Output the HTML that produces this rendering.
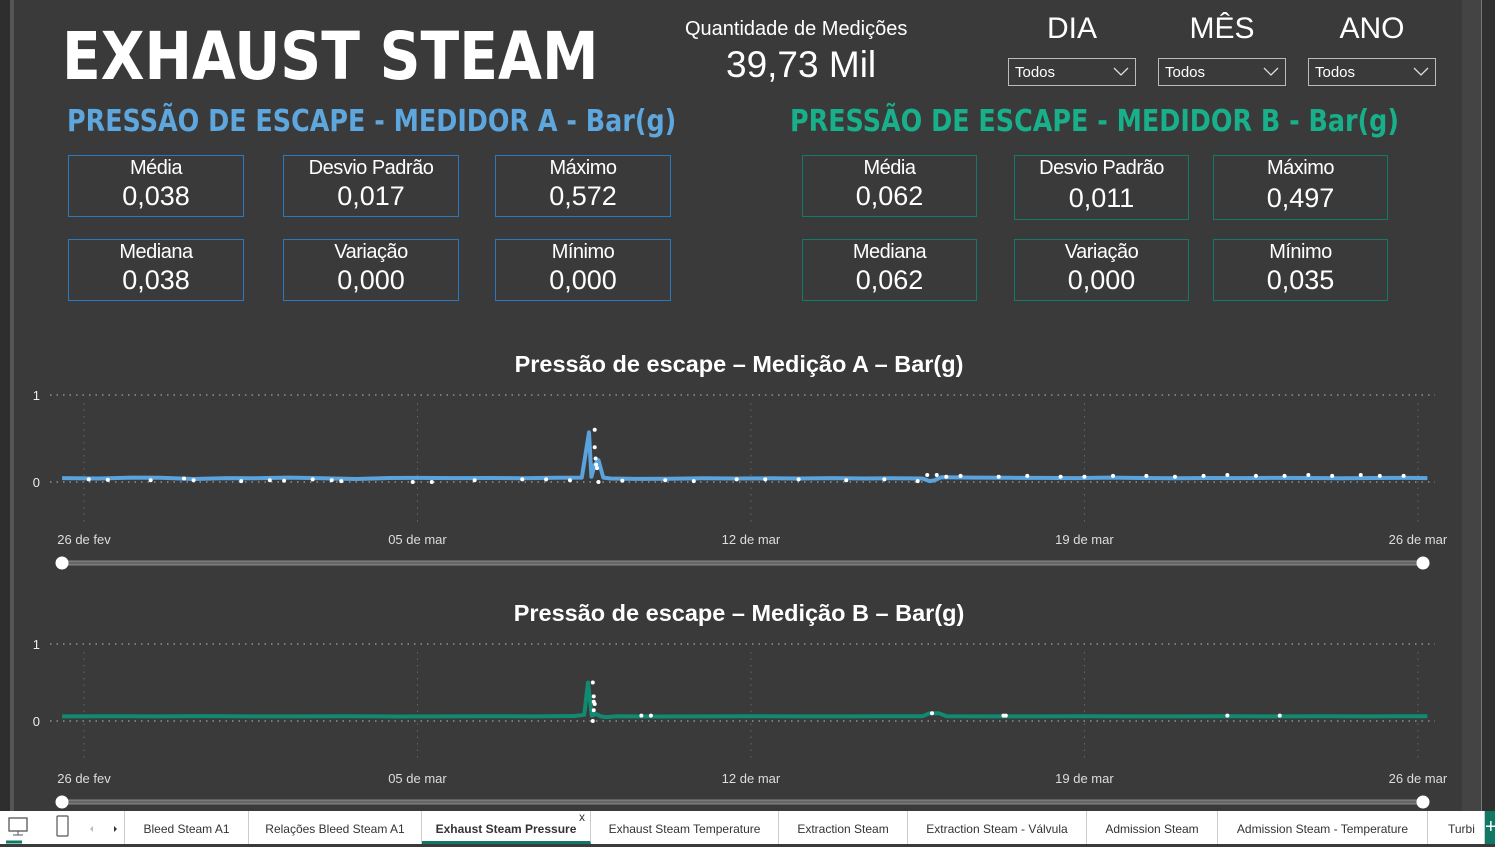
<!DOCTYPE html>
<html><head><meta charset="utf-8">
<style>
*{margin:0;padding:0;box-sizing:border-box}
body{width:1495px;height:844px;background:#3a3a3a;font-family:"Liberation Sans",sans-serif;color:#fff;position:relative;overflow:hidden}
.abs{position:absolute}
.box{position:absolute;width:176px;height:62px;text-align:center;border:1.5px solid #2a78c0}
.box.b{border-color:#137a68}
.box .l{font-size:20px;margin-top:1px;letter-spacing:-0.5px}
.box .v{font-size:27px;margin-top:1px}
.sel{position:absolute;top:58px;width:128px;height:28px;border:1.5px solid #bbb;font-size:15px;padding:5px 6px}
.sel svg{position:absolute;right:6px;top:8px}
.hdr{position:absolute;top:12px;font-size:30px;width:128px;text-align:center}
.tab{position:absolute;top:811px;height:33px;font-size:12px;color:#333;text-align:center;line-height:36px;border-right:1px solid #ccc;white-space:nowrap}
</style></head><body>
<div class="abs" style="left:0;top:0;width:12px;height:811px;background:#2e2e2e"></div>
<div class="abs" style="left:10px;top:0;width:4px;height:811px;background:#555"></div>
<div class="abs" style="left:1462px;top:0;width:19px;height:811px;background:#444"></div>
<div class="abs" style="left:1481px;top:0;width:14px;height:811px;background:#303030;border-left:1px solid #777"></div>

<div class="abs" style="left:62px;top:18px;font-size:66px;font-weight:bold;font-family:'DejaVu Sans',sans-serif;transform:scaleX(0.86);transform-origin:left;white-space:nowrap">EXHAUST STEAM</div>
<div class="abs" style="left:685px;top:18px;font-size:20px">Quantidade de Medições</div>
<div class="abs" style="left:726px;top:44px;font-size:37px">39,73 Mil</div>

<div class="hdr" style="left:1008px">DIA</div>
<div class="hdr" style="left:1158px">MÊS</div>
<div class="hdr" style="left:1308px">ANO</div>
<div class="sel" style="left:1008px">Todos<svg width="16" height="10"><polyline points="1,1 8,8 15,1" fill="none" stroke="#ddd" stroke-width="1.3"/></svg></div>
<div class="sel" style="left:1158px">Todos<svg width="16" height="10"><polyline points="1,1 8,8 15,1" fill="none" stroke="#ddd" stroke-width="1.3"/></svg></div>
<div class="sel" style="left:1308px">Todos<svg width="16" height="10"><polyline points="1,1 8,8 15,1" fill="none" stroke="#ddd" stroke-width="1.3"/></svg></div>

<div class="abs" style="left:67px;top:104px;font-size:30px;font-weight:bold;color:#5ea6de;font-family:'DejaVu Sans',sans-serif;transform:scaleX(0.847);transform-origin:left;white-space:nowrap">PRESSÃO DE ESCAPE - MEDIDOR A - Bar(g)</div>
<div class="abs" style="left:790px;top:104px;font-size:30px;font-weight:bold;color:#17b08a;font-family:'DejaVu Sans',sans-serif;transform:scaleX(0.847);transform-origin:left;white-space:nowrap">PRESSÃO DE ESCAPE - MEDIDOR B - Bar(g)</div>

<div class="box" style="left:68px;top:155px"><div class="l">Média</div><div class="v">0,038</div></div>
<div class="box" style="left:283px;top:155px"><div class="l">Desvio Padrão</div><div class="v">0,017</div></div>
<div class="box" style="left:495px;top:155px"><div class="l">Máximo</div><div class="v">0,572</div></div>
<div class="box" style="left:68px;top:239px"><div class="l">Mediana</div><div class="v">0,038</div></div>
<div class="box" style="left:283px;top:239px"><div class="l">Variação</div><div class="v">0,000</div></div>
<div class="box" style="left:495px;top:239px"><div class="l">Mínimo</div><div class="v">0,000</div></div>
<div class="box b" style="left:802px;top:155px;width:175px"><div class="l">Média</div><div class="v">0,062</div></div>
<div class="box b" style="left:1014px;top:155px;height:65px;width:175px"><div class="l">Desvio Padrão</div><div class="v" style="margin-top:3px">0,011</div></div>
<div class="box b" style="left:1213px;top:155px;height:65px;width:175px"><div class="l">Máximo</div><div class="v" style="margin-top:3px">0,497</div></div>
<div class="box b" style="left:802px;top:239px;width:175px"><div class="l">Mediana</div><div class="v">0,062</div></div>
<div class="box b" style="left:1014px;top:239px;width:175px"><div class="l">Variação</div><div class="v">0,000</div></div>
<div class="box b" style="left:1213px;top:239px;width:175px"><div class="l">Mínimo</div><div class="v">0,035</div></div>

<svg id="charts" class="abs" style="left:0;top:0" width="1495" height="811"></svg>

<div class="tab" style="left:0;width:125px;background:#fff;text-align:left">
<svg width="125" height="33" style="position:absolute;left:0;top:0"><rect x="9" y="7" width="18" height="13" fill="none" stroke="#555" stroke-width="1.3"/><line x1="18" y1="20" x2="18" y2="24" stroke="#555"/><line x1="13" y1="24" x2="23" y2="24" stroke="#555"/><line x1="6" y1="31" x2="22" y2="31" stroke="#117865" stroke-width="3"/><rect x="57" y="5" width="11" height="20" rx="1" fill="none" stroke="#555" stroke-width="1.2"/><polygon points="93,15 90,18 93,21" fill="#bbb"/><polygon points="114,15 117,18 114,21" fill="#333"/></svg></div>
<div id="tabs"></div>
<div class="abs" style="left:1485px;top:811px;width:10px;height:33px;background:#117865;color:#fff;font-size:20px;line-height:33px">+</div>

<script>
const NS="http://www.w3.org/2000/svg";
const svg=document.getElementById('charts');
function mk(t,a){const e=document.createElementNS(NS,t);for(const k in a)e.setAttribute(k,a[k]);svg.appendChild(e);return e;}
// ---- data ----
const tickLabels=["26 de fev","05 de mar","12 de mar","19 de mar","26 de mar"];
const tickDays=[0,7,14,21,28];
const daysA=[-0.46,0.3,1,1.6,2.3,3,3.6,4.3,5,5.7,6.4,7,7.8,8.5,9.2,9.9,10.45,10.6,10.65,10.72,10.8,10.9,11.05,11.6,12.3,13,13.7,14.4,15,15.7,16.4,17,17.6,17.75,17.85,18,18.7,19.4,20.1,20.8,21.5,22.2,22.9,23.6,24.3,25,25.7,26.4,27.1,27.8,28.2];
const valsA=[0.045,0.04,0.05,0.048,0.035,0.045,0.042,0.05,0.044,0.035,0.046,0.047,0.045,0.046,0.043,0.048,0.05,0.57,0.06,0.2,0.25,0.05,0.04,0.036,0.038,0.042,0.04,0.042,0.04,0.045,0.04,0.044,0.04,0.01,0.02,0.055,0.05,0.048,0.047,0.045,0.05,0.046,0.044,0.046,0.045,0.047,0.046,0.044,0.046,0.047,0.045];
const dotDaysA=[0.1,0.5,1.4,2.1,2.3,3.3,3.9,4.2,4.8,5.2,5.4,6.9,7.3,8.2,9.2,9.7,10.2,10.72,10.72,10.74,10.75,10.77,10.8,11.3,12.2,12.8,13.7,14.3,15,16,16.8,17.5,17.7,17.9,18.1,18.4,19.2,19.8,20.5,21,21.6,22.3,22.9,23.5,24,24.6,25.2,25.7,26.2,26.8,27.2,27.7];
const dotValsA=[0.03,0.025,0.02,0.04,0.02,0.01,0.02,0.015,0.03,0.02,0.01,0.0,0.0,0.02,0.03,0.03,0.02,0.6,0.4,0.27,0.2,0.16,0.0,0.015,0.02,0.01,0.03,0.03,0.03,0.02,0.03,0.01,0.08,0.08,0.06,0.07,0.06,0.07,0.06,0.06,0.07,0.07,0.06,0.07,0.08,0.07,0.07,0.08,0.07,0.08,0.07,0.07];
const daysB=[-0.46,0.5,1.5,2.5,3.5,4.5,5.5,6.5,7.5,8.5,9.5,10.3,10.5,10.58,10.66,10.75,10.85,10.95,11.2,12,13,14,15,16,17,17.6,17.75,17.95,18.1,19,20,21,22,23,24,25,26,27,28.2];
const valsB=[0.06,0.062,0.06,0.063,0.06,0.06,0.062,0.058,0.06,0.062,0.06,0.065,0.08,0.5,0.07,0.09,0.06,0.05,0.062,0.058,0.06,0.062,0.06,0.06,0.062,0.062,0.1,0.1,0.062,0.06,0.06,0.062,0.06,0.06,0.062,0.06,0.062,0.06,0.062];
const dotDaysB=[10.68,10.7,10.7,10.72,10.7,10.68,11.7,11.9,17.8,19.3,19.35,24,25.1];
const dotValsB=[0.5,0.32,0.25,0.22,0.14,0.0,0.07,0.07,0.1,0.07,0.07,0.07,0.07];
// ---- scales ----
const xs=d=>84+d*47.64;
function chart(o){
  const ys=v=>o.y0-v*(o.y0-o.y1);
  mk('line',{x1:50,x2:1435,y1:o.y1,y2:o.y1,stroke:'#bbb','stroke-dasharray':'1.5 5'});
  mk('line',{x1:50,x2:1435,y1:o.y0,y2:o.y0,stroke:'#bbb','stroke-dasharray':'1.5 5'});
  tickDays.forEach((d,i)=>{
    const g=mk('line',{x1:xs(d),x2:xs(d),y1:o.y1+8,y2:o.y0+40,stroke:'#666','stroke-dasharray':'1.5 5'});
    
    const t=mk('text',{x:xs(d),y:o.y0+62,fill:'#ddd','font-size':13,'text-anchor':'middle','font-family':'Liberation Sans'});
    t.textContent=tickLabels[i];
    
  });
  [[1,o.y1],[0,o.y0]].forEach(([v,y])=>{const t=mk('text',{x:40,y:y+5,fill:'#eee','font-size':13,'text-anchor':'end','font-family':'Liberation Sans'});t.textContent=v;});
  const ti=mk('text',{x:739,y:o.y1-23,fill:'#fff','font-size':23.5,'font-weight':'bold','text-anchor':'middle','font-family':'Liberation Sans'});
  ti.textContent=o.title;
  const p=mk('path',{d:o.days.map((d,i)=>(i?'L':'M')+xs(d).toFixed(1)+' '+ys(o.vals[i]).toFixed(1)).join(''),fill:'none',stroke:o.color,'stroke-width':4,'stroke-linejoin':'round'});
  
  o.dd.forEach((d,i)=>{const c=mk('circle',{cx:xs(d),cy:ys(o.dv[i]),r:2,fill:'#fff'});});
  const sy=o.y0+81;
  const tr=mk('rect',{x:62,y:sy-2,width:1361,height:4,fill:'#666',stroke:'#999','stroke-width':0.8});
  [62,1423].forEach(x=>{const h=mk('circle',{cx:x,cy:sy,r:6.5,fill:'#fff'});});
}
chart({y0:482,y1:395,title:'Pressão de escape – Medição A – Bar(g)',color:'#5ba3dc',days:daysA,vals:valsA,dd:dotDaysA,dv:dotValsA});
chart({y0:721,y1:644,title:'Pressão de escape – Medição B – Bar(g)',color:'#118a72',days:daysB,vals:valsB,dd:dotDaysB,dv:dotValsB});
// tabs
const tabNames=["Bleed Steam A1","Relações Bleed Steam A1","Exhaust Steam Pressure","Exhaust Steam Temperature","Extraction Steam","Extraction Steam - Válvula","Admission Steam","Admission Steam - Temperature","Turbi"];
const tabEdges=[125,249,422,591,779,908,1087,1218,1428,1485];
const tc=document.getElementById('tabs');
tabNames.forEach((n,i)=>{
  const d=document.createElement('div');d.className='tab';
  d.style.left=tabEdges[i]+'px';d.style.width=(tabEdges[i+1]-tabEdges[i])+'px';d.style.background='#fff';
  d.textContent=n;
  if(i==2){d.style.fontWeight='bold';d.style.borderBottom='3px solid #117865';d.innerHTML+='<span style="position:absolute;right:5px;top:-12px;font-weight:normal">x</span>';}
  if(i==8){d.style.textAlign='left';d.style.paddingLeft='20px';d.style.overflow='hidden';}
  
  
  tc.appendChild(d);
});
</script>
</body></html>
